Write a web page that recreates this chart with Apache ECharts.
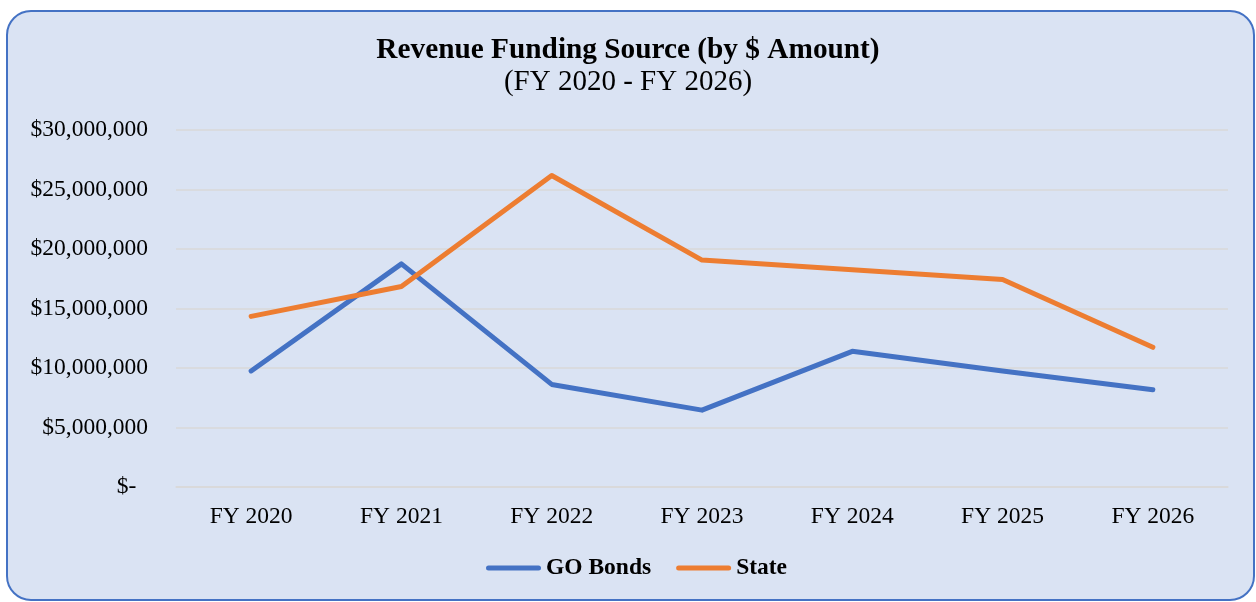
<!DOCTYPE html>
<html>
<head>
<meta charset="utf-8">
<script src="https://cdn.jsdelivr.net/npm/echarts@6/dist/echarts.min.js"></script>
<style>
html,body{margin:0;padding:0;background:#ffffff;}
#chart{width:1256px;height:602px;}
</style>
</head>
<body>
<div id="chart"></div>
<script>
const categories = ['FY 2020', 'FY 2021', 'FY 2022', 'FY 2023', 'FY 2024', 'FY 2025', 'FY 2026'];
const goBonds = [9750000, 18750000, 8620000, 6460000, 11400000, 9750000, 8170000];
const stateFunds = [14340000, 16850000, 26180000, 19070000, 18260000, 17440000, 11740000];
const seriesNames = ['GO Bonds', 'State'];
const titleText = 'Revenue Funding Source (by $ Amount)';
const subtitleText = '(FY 2020 - FY 2026)';

const FONT = '"Liberation Serif", "Times New Roman", serif';

function fmtMoney(v) {
  if (v === 0) return '$-\u00A0\u00A0';
  return '$' + v.toString().replace(/\B(?=(\d{3})+(?!\d))/g, ',');
}

const capsule = 'path://M2.5,0 H52.5 A2.5,2.5 0 0 1 52.5,5 H2.5 A2.5,2.5 0 0 1 2.5,0 Z';

const chart = echarts.init(document.getElementById('chart'), null, {renderer: 'canvas'});
chart.setOption({
  backgroundColor: 'transparent',
  animation: false,
  graphic: [{
    type: 'rect',
    z: -10,
    silent: true,
    shape: {x: 7, y: 11, width: 1247, height: 589, r: 24},
    style: {fill: '#DAE3F3', stroke: '#4472C4', lineWidth: 2}
  }],
  title: [{
    text: titleText,
    left: 'center',
    top: 31,
    textStyle: {fontFamily: FONT, fontWeight: 'bold', fontSize: 29.3, color: '#000'}
  }, {
    text: subtitleText,
    left: 'center',
    top: 63,
    textStyle: {fontFamily: FONT, fontWeight: 'normal', fontSize: 29, color: '#000'}
  }],
  legend: {
    data: seriesNames,
    left: 481,
    top: 551,
    icon: capsule,
    itemWidth: 55,
    itemHeight: 5,
    itemGap: 25,
    textStyle: {fontFamily: FONT, fontWeight: 'bold', fontSize: 23.5, color: '#000'}
  },
  grid: {left: 176, right: 28, top: 130, bottom: 115, containLabel: false},
  xAxis: {
    type: 'category',
    data: categories,
    boundaryGap: true,
    axisLine: {show: true, lineStyle: {color: '#D9D9D9', width: 1.5}},
    axisTick: {show: false},
    axisLabel: {fontFamily: FONT, fontSize: 23.5, color: '#000', margin: 18}
  },
  yAxis: {
    type: 'value',
    min: 0,
    max: 30000000,
    interval: 5000000,
    axisLine: {show: false},
    axisTick: {show: false},
    splitLine: {lineStyle: {color: '#D9D9D9', width: 1.5}},
    axisLabel: {fontFamily: FONT, fontSize: 23.5, color: '#000', margin: 28, padding: [4, 0, 0, 0], formatter: fmtMoney}
  },
  series: [{
    name: seriesNames[0],
    type: 'line',
    data: goBonds,
    symbol: 'none',
    color: '#4472C4',
    lineStyle: {width: 5, color: '#4472C4', cap: 'round', join: 'round'}
  }, {
    name: seriesNames[1],
    type: 'line',
    data: stateFunds,
    symbol: 'none',
    color: '#ED7D31',
    lineStyle: {width: 5, color: '#ED7D31', cap: 'round', join: 'round'}
  }]
});
</script>
</body>
</html>
